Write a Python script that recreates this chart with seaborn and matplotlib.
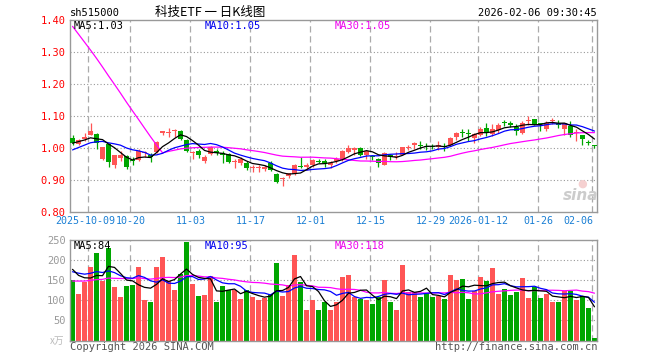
import numpy as np
import pandas as pd
import matplotlib
matplotlib.use("Agg")
import matplotlib.pyplot as plt
import matplotlib.transforms as mtransforms
import seaborn as sns

# daily candles, 2025-09-26 .. 2026-02-06 (88 trading days)
opens = [1.031, 1.012, 1.027, 1.042, 1.044, 0.967, 1.012, 0.946, 0.969, 0.975,
         0.963, 0.963, 0.983, 0.979, 0.987, 1.046, 1.048, 1.054, 1.054, 1.025,
         0.985, 0.992, 0.960, 0.981, 0.992, 0.983, 0.981, 0.956, 0.954, 0.954,
         0.937, 0.938, 0.935, 0.954, 0.919, 0.904, 0.912, 0.919, 0.944, 0.942,
         0.946, 0.960, 0.958, 0.948, 0.958, 0.963, 0.987, 0.994, 1.000, 0.979,
         0.975, 0.965, 0.948, 0.977, 0.971, 0.979, 1.000, 1.008, 1.010, 1.006,
         1.006, 1.002, 1.006, 1.010, 1.035, 1.050, 1.048, 1.031, 1.042, 1.062,
         1.044, 1.056, 1.081, 1.077, 1.065, 1.046, 1.083, 1.090, 1.077, 1.060,
         1.083, 1.079, 1.060, 1.069, 1.048, 1.040, 1.019, 1.008]
highs = [1.040, 1.028, 1.046, 1.079, 1.046, 1.004, 1.017, 0.979, 0.990, 0.979,
         0.973, 0.996, 0.992, 0.983, 1.021, 1.054, 1.064, 1.060, 1.056, 1.027,
         0.992, 0.996, 0.979, 1.006, 0.996, 0.992, 0.985, 0.967, 0.971, 0.958,
         0.948, 0.948, 0.946, 0.960, 0.923, 0.910, 0.923, 0.950, 0.971, 0.954,
         0.967, 0.967, 0.967, 0.958, 0.973, 0.994, 1.010, 1.002, 1.004, 0.992,
         0.979, 0.969, 0.987, 0.981, 0.987, 1.004, 1.010, 1.019, 1.023, 1.015,
         1.012, 1.021, 1.017, 1.033, 1.050, 1.060, 1.060, 1.046, 1.065, 1.079,
         1.075, 1.077, 1.087, 1.085, 1.075, 1.083, 1.100, 1.092, 1.079, 1.083,
         1.094, 1.087, 1.079, 1.085, 1.058, 1.042, 1.025, 1.010]
lows = [1.008, 1.008, 1.023, 1.040, 0.998, 0.963, 0.940, 0.937, 0.960, 0.935,
        0.948, 0.958, 0.971, 0.956, 0.985, 1.042, 1.035, 1.033, 1.025, 0.987,
        0.967, 0.969, 0.952, 0.977, 0.979, 0.954, 0.954, 0.937, 0.948, 0.931,
        0.925, 0.925, 0.927, 0.927, 0.892, 0.881, 0.906, 0.917, 0.938, 0.931,
        0.942, 0.952, 0.942, 0.937, 0.952, 0.960, 0.983, 0.979, 0.975, 0.965,
        0.962, 0.942, 0.946, 0.962, 0.967, 0.977, 0.994, 0.998, 0.996, 0.994,
        0.996, 0.994, 0.992, 1.006, 1.025, 1.035, 1.021, 1.017, 1.037, 1.037,
        1.037, 1.046, 1.069, 1.065, 1.040, 1.044, 1.073, 1.071, 1.054, 1.052,
        1.075, 1.062, 1.040, 1.033, 1.023, 1.010, 1.008, 1.000]
closes = [1.015, 1.025, 1.035, 1.054, 1.015, 1.002, 0.956, 0.977, 0.979, 0.942,
          0.959, 0.992, 0.987, 0.971, 1.019, 1.052, 1.050, 1.056, 1.029, 0.992,
          0.989, 0.979, 0.973, 1.002, 0.983, 0.979, 0.956, 0.958, 0.967, 0.937,
          0.940, 0.942, 0.940, 0.931, 0.894, 0.906, 0.921, 0.948, 0.940, 0.946,
          0.962, 0.956, 0.952, 0.954, 0.966, 0.990, 1.000, 1.000, 0.979, 0.990,
          0.971, 0.954, 0.983, 0.971, 0.975, 1.002, 1.002, 1.015, 1.006, 1.002,
          1.002, 1.008, 1.002, 1.031, 1.046, 1.046, 1.044, 1.044, 1.060, 1.046,
          1.058, 1.073, 1.079, 1.073, 1.052, 1.079, 1.085, 1.075, 1.075, 1.079,
          1.085, 1.073, 1.077, 1.040, 1.050, 1.027, 1.017, 1.006]
volumes = [150, 115, 145, 182, 217, 147, 231, 132, 107, 135,
           137, 182, 100, 97, 182, 207, 147, 125, 165, 245,
           140, 110, 112, 160, 95, 135, 125, 125, 102, 125,
           107, 100, 105, 115, 192, 110, 137, 212, 145, 77,
           100, 75, 97, 75, 97, 157, 162, 107, 102, 100,
           92, 107, 150, 95, 77, 187, 120, 120, 107, 117,
           107, 110, 102, 162, 150, 152, 102, 122, 157, 147,
           180, 115, 127, 112, 120, 155, 105, 132, 105, 115,
           95, 95, 122, 122, 100, 110, 82, 5]

# earlier sessions (before the window), only feed the moving averages
prior_closes = [1.76, 1.78, 1.80, 1.79, 1.81, 1.79, 1.78, 1.80, 1.79, 1.77,
                1.79, 1.80, 1.78, 1.79, 1.79, 0.92, 0.94, 0.91, 0.93, 0.945,
                0.95, 0.96, 0.98, 0.985, 0.99, 1.00, 1.01, 1.02, 1.03]
prior_volumes = [120, 145, 130, 160, 125, 140, 150, 118, 135, 142,
                 128, 155, 138, 132, 147, 126, 140, 135, 130, 134,
                 150, 170, 160, 175, 170, 190, 175, 185, 185]

tick_idx = [3, 10, 20, 30, 40, 50, 60, 68, 78, 87]
tick_labels = ["2025-10-09", "10-20", "11-03", "11-17", "12-01", "12-15",
               "12-29", "2026-01-12", "01-26", "02-06"]

RED = "#ff5555"
GREEN = "#00a600"
GRID = "#aaaaaa"
FS = 7.5

sns.set_theme(style="white")
plt.rcParams["font.family"] = ["DejaVu Sans Mono", "Noto Sans CJK SC"]

n = len(closes)
x = np.arange(n)
np_ = len(prior_closes)
c_all = pd.Series(prior_closes + closes)
v_all = pd.Series(prior_volumes + volumes, dtype=float)
ma = pd.DataFrame({
    "x": x,
    "p5": c_all.rolling(5).mean().values[np_:],
    "p10": c_all.rolling(10).mean().values[np_:],
    "p30": c_all.rolling(30).mean().values[np_:],
    "v5": v_all.rolling(5).mean().values[np_:],
    "v10": v_all.rolling(10).mean().values[np_:],
    "v30": v_all.rolling(30).mean().values[np_:],
})

colors = [RED if c >= o else GREEN for o, c in zip(opens, closes)]

W, H = 660, 360
fig = plt.figure(figsize=(6.6, 3.6), dpi=100)
fig.patch.set_facecolor("white")


def fx(px):
    return px / W


def fy(py):
    return 1 - py / H


ax = fig.add_axes([fx(70), fy(212), fx(597) - fx(70), fy(20) - fy(212)])
axv = fig.add_axes([fx(70), fy(340.5), fx(597) - fx(70), fy(240) - fy(340.5)])

xlim = (-0.42, n - 0.58)
grid_x = [i - 0.35 for i in tick_idx]

for a in (ax, axv):
    a.set_facecolor("white")
    a.set_xlim(*xlim)
    for s in a.spines.values():
        s.set_color("#999999")
        s.set_linewidth(1)
    for gx in grid_x:
        a.axvline(gx, color=GRID, lw=0.9, ls=(0, (5, 3)), zorder=0)
    a.tick_params(length=0, pad=3)

# price panel
for lv in [0.9, 1.0, 1.1, 1.2, 1.3]:
    ax.axhline(lv, color="#999999", lw=0.8, ls=(0, (1, 2)), zorder=0)

for i in range(n):
    o, h, l, c = opens[i], highs[i], lows[i], closes[i]
    ax.vlines(i, l, h, color=colors[i], lw=0.9, zorder=2)
    body = max(abs(c - o), 0.003)
    ax.bar(i, body, bottom=min(o, c), width=0.82, color=colors[i], lw=0, zorder=3)

sns.lineplot(data=ma, x="x", y="p30", ax=ax, color="#ff00ff", lw=0.9, zorder=4)
sns.lineplot(data=ma, x="x", y="p10", ax=ax, color="#0000ff", lw=0.9, zorder=4)
sns.lineplot(data=ma, x="x", y="p5", ax=ax, color="black", lw=0.9, zorder=4)

ax.set_ylim(0.80, 1.40)
ax.set_yticks([0.8, 0.9, 1.0, 1.1, 1.2, 1.3, 1.4])
ax.set_yticklabels(["0.80", "0.90", "1.00", "1.10", "1.20", "1.30", "1.40"],
                   color="#ff0000", fontsize=FS)
ax.set_xticks([])
ax.set_xlabel("")
ax.set_ylabel("")

# date labels under the price panel
trans = mtransforms.blended_transform_factory(ax.transData, fig.transFigure)
for k, (gx, lab) in enumerate(zip(grid_x, tick_labels)):
    ha = "center"
    px = gx
    if k == 0:
        px = gx - 0.45
    if k == len(grid_x) - 1:
        ha = "right"
        px = gx + 0.15
    ax.text(px, fy(221), lab, transform=trans, ha=ha, va="center",
            color="#1a7fd4", fontsize=7.2)

# volume panel
for lv in [50, 100, 150, 200]:
    axv.axhline(lv, color="#999999", lw=0.8, ls=(0, (1, 2)), zorder=0)
axv.bar(x, volumes, width=0.82, color=colors, lw=0, zorder=2)
sns.lineplot(data=ma, x="x", y="v30", ax=axv, color="#ff00ff", lw=0.9, zorder=4)
sns.lineplot(data=ma, x="x", y="v10", ax=axv, color="#0000ff", lw=0.9, zorder=4)
sns.lineplot(data=ma, x="x", y="v5", ax=axv, color="black", lw=0.9, zorder=4)
axv.set_ylim(0, 250)
axv.set_yticks([50, 100, 150, 200, 250])
axv.set_yticklabels(["50", "100", "150", "200", "250"], color="#999999",
                    fontsize=FS)
axv.set_xticks([])
axv.set_xlabel("")
axv.set_ylabel("")

# header / legends
fig.text(fx(70), fy(13), "sh515000", fontsize=FS, color="black", va="center")
fig.text(fx(210), fy(12), "科技ETF 一 日K线图", fontsize=9, color="black",
         ha="center", va="center", family=["Noto Sans CJK SC", "DejaVu Sans"])
fig.text(fx(597), fy(13), "2026-02-06 09:30:45", fontsize=FS, color="black",
         ha="right", va="center")

fig.text(fx(74), fy(26), "MA5:1.03", fontsize=FS, color="black", va="center")
fig.text(fx(205), fy(26), "MA10:1.05", fontsize=FS, color="#0000ee", va="center")
fig.text(fx(335), fy(26), "MA30:1.05", fontsize=FS, color="#ee00ee", va="center")

fig.text(fx(74), fy(246), "MA5:84", fontsize=FS, color="black", va="center")
fig.text(fx(205), fy(246), "MA10:95", fontsize=FS, color="#0000ee", va="center")
fig.text(fx(335), fy(246), "MA30:118", fontsize=FS, color="#ee00ee", va="center")

fig.text(fx(57), fy(341), "x万", fontsize=7, color="#bbbbbb", ha="center", va="center",
         family=["Noto Sans CJK SC", "DejaVu Sans"])
fig.text(fx(70), fy(347), "Copyright 2026 SINA.COM", fontsize=FS,
         color="#555555", va="center")
fig.text(fx(597), fy(347), "http://finance.sina.com.cn", fontsize=FS,
         color="#555555", ha="right", va="center")

# faint sina watermark
fig.text(fx(581), fy(195), "sina", fontsize=11, color="#cccccc", style="italic",
         weight="bold", ha="center", va="center", family="DejaVu Sans")
fig.text(fx(582), fy(184), "●", fontsize=8, color="#f5d0d0", ha="center", va="center",
         family="DejaVu Sans")

fig.savefig("out.png", dpi=100, facecolor="white")
